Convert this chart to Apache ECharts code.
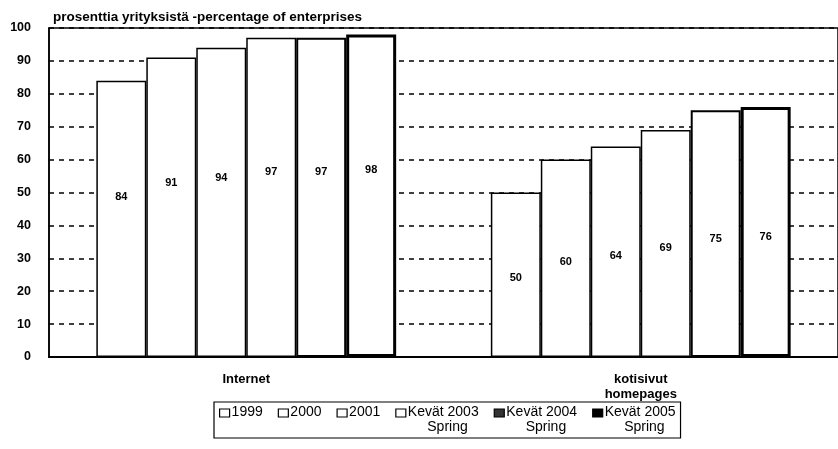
<!DOCTYPE html>
<html><head><meta charset="utf-8">
<script src="https://cdn.jsdelivr.net/npm/echarts@6/dist/echarts.min.js"></script>
<style>html,body{margin:0;padding:0;background:#fff}#c{width:838px;height:449px}</style>
</head><body><div id="c"></div>
<script>
const categories = ['Internet', 'kotisivut\nhomepages'];
const seriesNames = ['1999', '2000', '2001', 'Kevät 2003\n     Spring', 'Kevät 2004\n     Spring', 'Kevät 2005\n     Spring'];
const v1999 = [84, 50];
const v2000 = [91, 60];
const v2001 = [94, 64];
const v2003 = [97, 69];
const v2004 = [97, 75];
const v2005 = [98, 76];
const yTicks = [0, 10, 20, 30, 40, 50, 60, 70, 80, 90, 100];

const values = [v1999, v2000, v2001, v2003, v2004, v2005];
const borderWidths = [1.5, 1.5, 1.5, 1.5, 2, 3];
const labelPos = [['50%', '42%'], ['50%', '52%']];
const legendFills = ['#fff', '#fff', '#fff', '#fff', '#333', '#000'];
const font = '"Liberation Sans", Arial, sans-serif';
// icon drawn in the top part of a taller box so it sits on the first text row
const legendIcon = 'path://M0,0L10,0L10,8L0,8ZM0,22';

const chart = echarts.init(document.getElementById('c'));
chart.setOption({
  animation: false,
  backgroundColor: '#fff',
  title: {
    text: 'prosenttia yrityksistä -percentage of enterprises',
    left: 48, top: 5,
    textStyle: { fontFamily: font, fontSize: 13.5, fontWeight: 'bold', color: '#000' }
  },
  grid: { left: 49, right: -2, top: 28, bottom: 92, show: true, borderColor: '#000', borderWidth: 1.5, backgroundColor: 'transparent' },
  legend: {
    bottom: 11, left: 214,
    orient: 'horizontal',
    icon: legendIcon,
    itemWidth: 10, itemHeight: 22, itemGap: 15,
    padding: [3, 5, 3, 5],
    borderColor: '#000', borderWidth: 1.2,
    formatter: n => n.includes('\n') ? n : n + '\n ',
    textStyle: { fontFamily: font, fontSize: 14, color: '#000', padding: [0, 0, 0, -3], lineHeight: 15 },
    data: seriesNames.map((n, i) => ({ name: n, itemStyle: { color: legendFills[i], borderColor: '#000', borderWidth: 1.2 } }))
  },
  xAxis: {
    type: 'category', data: categories,
    axisLine: { lineStyle: { color: '#000', width: 2 } },
    axisTick: { show: false },
    axisLabel: { margin: 15, fontFamily: font, fontSize: 13, fontWeight: 'bold', color: '#000', lineHeight: 15 }
  },
  yAxis: {
    type: 'value', min: 0, max: 100, interval: 10,
    axisLine: { show: true, lineStyle: { color: '#000', width: 1.5 } },
    axisTick: { show: false },
    axisLabel: { margin: 18, fontFamily: font, fontSize: 12.5, fontWeight: 'bold', color: '#000',
      formatter: v => yTicks.includes(v) ? String(v) : '' },
    splitLine: { lineStyle: { color: '#000', width: 1.5, type: [5, 5] } }
  },
  series: values.map((arr, i) => ({
    name: seriesNames[i],
    type: 'bar',
    barGap: '0%',
    barCategoryGap: '24%',
    itemStyle: { color: '#fff', borderColor: '#000', borderWidth: borderWidths[i] },
    data: arr.map((v, j) => ({ value: v, label: { position: labelPos[j] } })),
    label: { show: true, align: 'center', verticalAlign: 'middle', fontFamily: font, fontSize: 11, fontWeight: 'bold', color: '#000' }
  }))
});
</script></body></html>
